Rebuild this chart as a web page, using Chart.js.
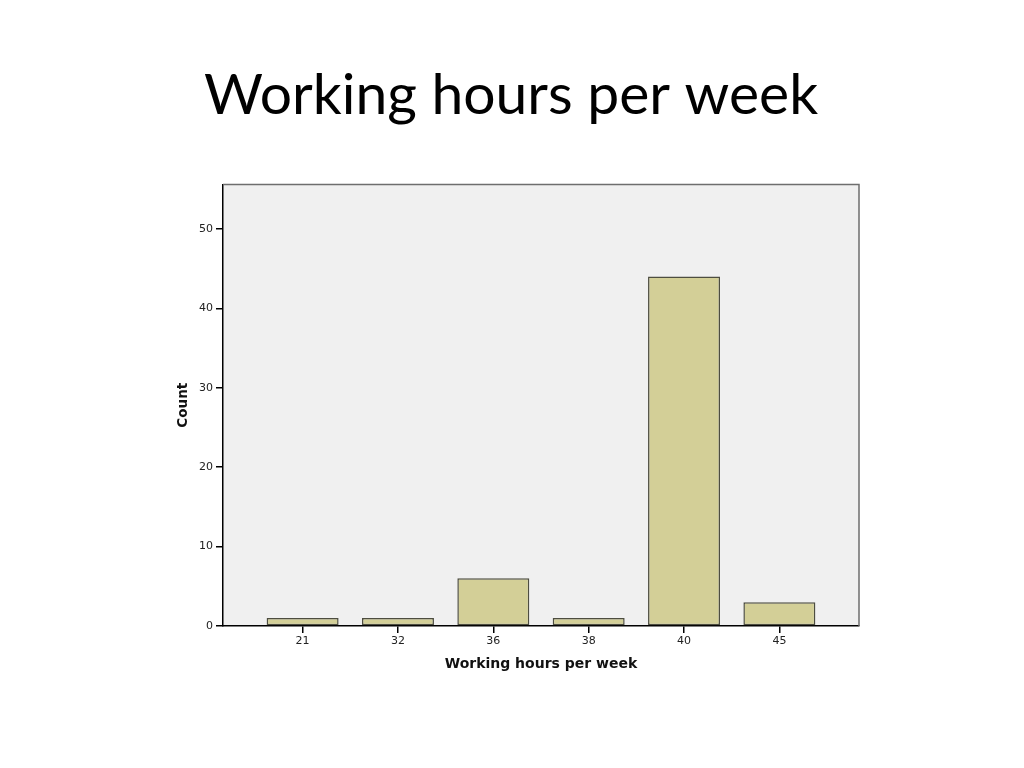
<!DOCTYPE html>
<html>
<head>
<meta charset="utf-8">
<title>Working hours per week</title>
<script src="https://cdn.jsdelivr.net/npm/chart.js@4.4.1/dist/chart.umd.min.js"></script>
<style>
  html, body { margin: 0; padding: 0; background: #fff; }
  #grafico { display: block; }
</style>
</head>
<body>
<canvas id="grafico" width="1024" height="768"></canvas>
<script>
// Dados
const horas = ['21', '32', '36', '38', '40', '45'];   // categorias (eixo X)
const contagem = [1, 1, 6, 1, 44, 3];                 // Count
const ticksY = [0, 10, 20, 30, 40, 50];
const maxY = 55.6;

// pontos {x: índice, y: valor} para a escala linear do eixo X
const pontos = contagem.map((v, i) => ({ x: i, y: v }));

// fundo cinza da área do gráfico + moldura de cima e da direita
const fundoArea = {
  id: 'fundoArea',
  beforeDraw(chart) {
    const { ctx, chartArea: a } = chart;
    ctx.save();
    ctx.fillStyle = '#f0f0f0';
    ctx.fillRect(a.left, a.top, a.right - a.left, a.bottom - a.top);
    ctx.restore();
  },
  afterDraw(chart) {
    const { ctx, chartArea: a } = chart;
    ctx.save();
    ctx.strokeStyle = '#6e6e6e';
    ctx.lineWidth = 1.5;
    ctx.beginPath();
    ctx.moveTo(a.left, a.top);
    ctx.lineTo(a.right, a.top);
    ctx.lineTo(a.right, a.bottom);
    ctx.stroke();
    ctx.restore();
  }
};

const ctx = document.getElementById('grafico').getContext('2d');

new Chart(ctx, {
  type: 'bar',
  data: {
    datasets: [{
      label: 'Count',
      data: pontos,
      backgroundColor: '#d3cf97',
      borderColor: '#4d4d40',
      borderWidth: 1.5,
      borderSkipped: false,
      barPercentage: 0.755,
      categoryPercentage: 1
    }]
  },
  options: {
    responsive: false,
    animation: false,
    devicePixelRatio: 1,
    layout: { padding: { left: 163, right: 165, top: 0, bottom: 80 } },
    plugins: {
      legend: { display: false },
      tooltip: { enabled: false },
      title: {
        display: true,
        text: 'Working hours per week',
        color: '#000',
        font: { family: 'Lato', size: 57, weight: 'normal', lineHeight: 1.2 },
        padding: { top: 61, bottom: 55 }
      }
    },
    scales: {
      x: {
        type: 'linear',
        offset: false,
        min: -0.835,
        max: 5.835,
        afterFit: (s) => { s.height = 62; },
        afterBuildTicks: (s) => { s.ticks = horas.map((h, i) => ({ value: i })); },
        ticks: {
          callback: (v) => horas[v],
          color: '#222',
          font: { family: 'DejaVu Sans', size: 11 },
          padding: 2,
          maxRotation: 0
        },
        grid: { offset: false, drawOnChartArea: false, drawTicks: true, tickLength: 7, color: '#000', lineWidth: 1.5 },
        border: { display: true, color: '#000', width: 1.5 },
        title: {
          display: true,
          text: 'Working hours per week',
          color: '#111',
          font: { family: 'DejaVu Sans', size: 14, weight: 'bold' },
          padding: { top: 0, bottom: 15 }
        }
      },
      y: {
        min: 0,
        max: maxY,
        afterFit: (s) => { s.width = 60; },
        afterBuildTicks: (s) => { s.ticks = ticksY.map(v => ({ value: v })); },
        ticks: {
          color: '#222',
          font: { family: 'DejaVu Sans', size: 11 },
          padding: 3
        },
        grid: { drawOnChartArea: false, drawTicks: true, tickLength: 7, color: '#000', lineWidth: 1.5 },
        border: { display: true, color: '#000', width: 1.5 },
        title: {
          display: true,
          text: 'Count',
          color: '#111',
          font: { family: 'DejaVu Sans', size: 13.5, weight: 'bold' },
          padding: { top: 12, bottom: 0 }
        }
      }
    }
  },
  plugins: [fundoArea]
});
</script>
</body>
</html>
